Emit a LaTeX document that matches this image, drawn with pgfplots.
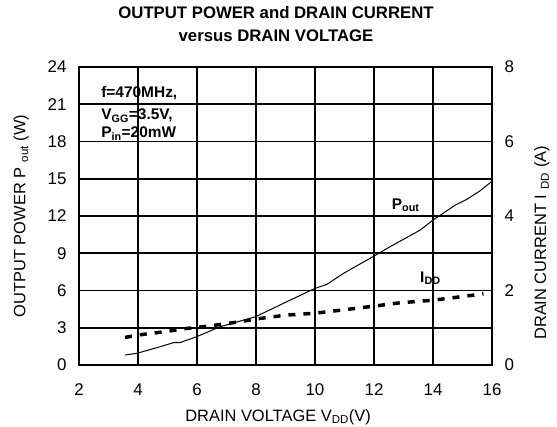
\documentclass[border=0pt]{standalone}
\usepackage{pgfplots}
\pgfplotsset{compat=1.18}
\usepackage{fontspec}
\setmainfont{Liberation Sans}
\begin{document}
\begin{tikzpicture}
\pgfplotsset{
  common/.style={
    scale only axis, width=413bp, height=298bp,
    xmin=2, xmax=16,
    /pgf/number format/assume math mode=true,
    tick label style={font=\fontsize{17}{19}\selectfont},
    label style={font=\fontsize{16.5}{18}\selectfont},
    major tick length=0pt,
  }
}
\begin{axis}[common, name=main,
  ymin=0, ymax=24, ytick={0,3,...,24},
  xtick={2,4,...,16},
  grid=major, grid style={black, line width=1.6bp},
  axis line style={line width=1.8bp},
  yticklabel style={xshift=-9bp},
  xticklabel style={yshift=-15bp},
  xlabel={DRAIN VOLTAGE V\textsubscript{DD}(V)},
  ylabel={OUTPUT POWER P\hspace{5bp}\textsubscript{out} (W)},
  xlabel style={at={(axis description cs:0.482,-0.1745)}, anchor=center},
  ylabel style={at={(axis description cs:-0.140,0.5)}, anchor=center},
  title style={font=\bfseries\fontsize{16.8}{23}\selectfont, align=center,
    at={(axis description cs:0.477,1)}, anchor=center, yshift=37bp},
  title={OUTPUT POWER and DRAIN CURRENT\\versus DRAIN VOLTAGE},
]
\addplot[black, line width=1pt] coordinates {
(3.56,0.8) (3.96,0.94) (4.75,1.47) (5.2,1.8) (5.42,1.8) (5.99,2.28) (6.78,3.08)
(7.99,3.89) (9.04,5.09) (10.0,6.17) (10.4,6.49) (10.96,7.37) (12.0,8.77)
(12.54,9.52) (13.56,10.86) (14.0,11.67) (14.75,12.87) (15.14,13.33) (15.59,14.02) (16.0,14.8)
};
\node[anchor=west, font=\bfseries\fontsize{15.5}{17}\selectfont, inner sep=0pt]
  at (axis cs:2.75,21.9) {f=470MHz,};
\node[anchor=west, font=\bfseries\fontsize{15.5}{17}\selectfont, inner sep=0pt]
  at (axis cs:2.75,20.1) {V\textsubscript{GG}=3.5V,};
\node[anchor=west, font=\bfseries\fontsize{15.5}{17}\selectfont, inner sep=0pt]
  at (axis cs:2.75,18.6) {P\textsubscript{in}=20mW};
\node[anchor=west, font=\bfseries\fontsize{15.5}{17}\selectfont, inner sep=0pt]
  at (axis cs:12.6,12.9) {P\textsubscript{out}};
\node[anchor=west, font=\bfseries\fontsize{15.5}{17}\selectfont, inner sep=0pt]
  at (axis cs:13.56,7.0) {I\textsubscript{DD}};
\end{axis}
\begin{axis}[common,
  ymin=0, ymax=8, ytick={0,2,...,8},
  axis y line*=right, axis x line=none,
  axis line style={line width=1.8bp},
  yticklabel style={xshift=9bp},
  ylabel={DRAIN CURRENT I\hspace{5bp}\textsubscript{DD} (A)},
  ylabel style={at={(axis description cs:1.121,0.41)}, anchor=center},
]
\addplot[black, line width=3.5pt, dash pattern=on 7bp off 8bp] coordinates {
(3.56,0.74) (3.96,0.8) (4.86,0.89) (5.65,0.98) (6.44,1.05) (7.35,1.15) (8.14,1.25)
(9.04,1.34) (10.0,1.39) (10.96,1.48) (12.0,1.58) (12.88,1.67) (14.0,1.74)
(14.92,1.83) (15.71,1.91)
};
\end{axis}
\pgfresetboundingbox
\path[use as bounding box] ([shift={(-79bp,-62bp)}]main.south west) rectangle ([shift={(65bp,67bp)}]main.north east);
\end{tikzpicture}
\end{document}
